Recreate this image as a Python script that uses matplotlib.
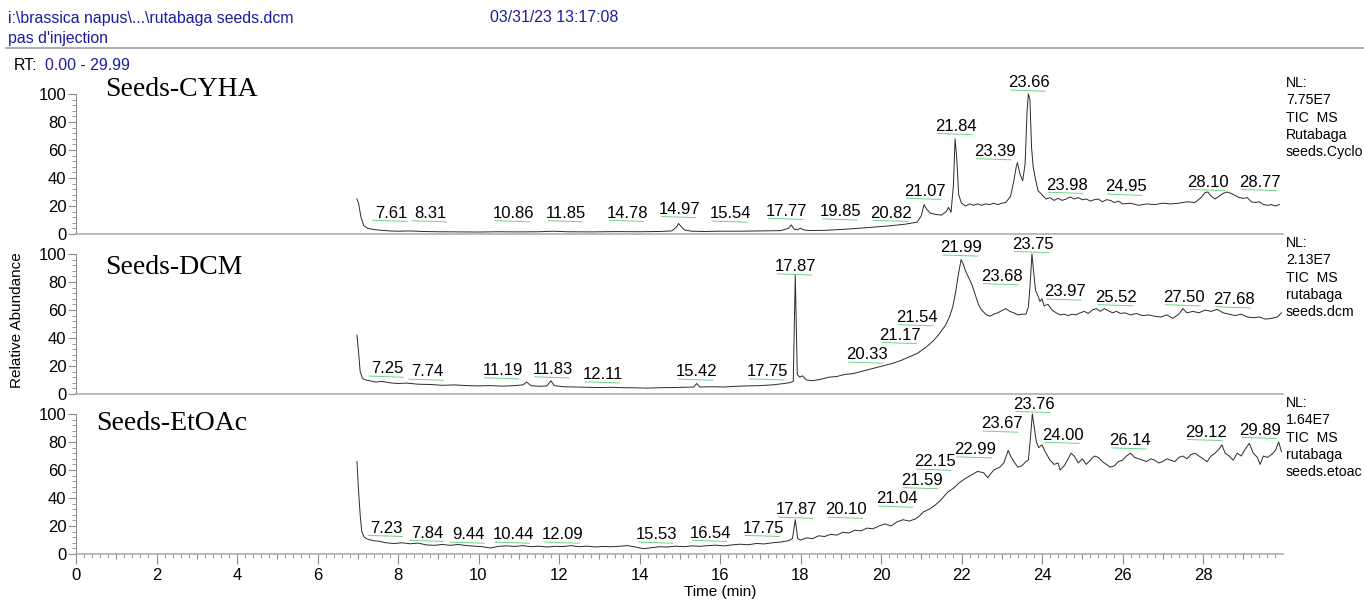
import matplotlib
matplotlib.use("Agg")
import matplotlib.pyplot as plt
from matplotlib.ticker import MultipleLocator

plt.rcParams['font.family'] = ['Liberation Sans', 'DejaVu Sans']

# ---- traces (time in min, relative abundance in %) ----
cyha_t = [6.98, 7.02, 7.08, 7.15, 7.25, 7.4, 7.6, 7.8, 8.0, 8.3, 8.6, 9.0, 9.5, 10.0, 10.5,
          11.0, 11.5, 11.85, 12.2, 12.8, 13.4, 14.0, 14.5, 14.8, 14.92, 14.97, 15.03, 15.12,
          15.3, 15.6, 16.0, 16.5, 17.0, 17.5, 17.7, 17.77, 17.84, 17.92, 18.0, 18.07, 18.2,
          18.6, 19.0, 19.5, 19.85, 20.2, 20.6, 20.9, 21.0, 21.07, 21.13, 21.22, 21.35, 21.5,
          21.62, 21.68, 21.74, 21.8, 21.84, 21.88, 21.93, 22.0, 22.1, 22.2, 22.3, 22.4, 22.5,
          22.6, 22.7, 22.8, 22.9, 23.0, 23.1, 23.22, 23.3, 23.36, 23.39, 23.45, 23.52, 23.58,
          23.63, 23.66, 23.7, 23.74, 23.78, 23.82, 23.9, 24.0, 24.1, 24.2, 24.3, 24.4, 24.5,
          24.6, 24.7, 24.8, 24.9, 25.0, 25.1, 25.2, 25.3, 25.4, 25.5, 25.6, 25.7, 25.8, 25.9,
          26.0, 26.2, 26.4, 26.6, 26.8, 27.0, 27.2, 27.4, 27.6, 27.8, 27.95, 28.05, 28.12,
          28.2, 28.3, 28.4, 28.5, 28.6, 28.7, 28.8, 28.9, 29.0, 29.1, 29.2, 29.3, 29.4, 29.5,
          29.6, 29.7, 29.8, 29.9]
cyha_v = [25, 22, 12, 6, 4, 3.2, 2.6, 2.2, 2.0, 2.2, 1.8, 1.6, 1.5, 1.4, 1.6,
          1.5, 1.6, 2.0, 1.6, 1.5, 1.7, 1.6, 1.8, 2.2, 5, 7.5, 5.5, 2.8,
          2.0, 1.8, 2.0, 2.0, 2.2, 2.4, 4, 6.5, 3.5, 3.0, 4.2, 3.0, 2.5,
          2.6, 3.2, 4.2, 5.0, 5.8, 7.0, 8.5, 13, 21, 18, 15, 14, 13.5,
          16, 19, 15.5, 35, 68, 55, 28, 22, 20, 21.5, 20.5, 21.5, 20.5,
          21.5, 21, 22, 21, 22, 22.5, 27, 38, 48, 51, 43, 38, 50,
          88, 100, 96, 62, 48, 42, 31, 28, 25, 26, 24, 25.5, 24,
          25, 26.5, 25, 26, 24.5, 25, 23.5, 24.5, 25, 23, 24.5, 24, 22.5, 23.5,
          21.5, 22, 20.5, 21.5, 21, 22, 21.5, 22, 23, 22.5, 26, 29.5, 30,
          27, 25, 27, 29, 30, 29, 27.5, 26, 25.5, 26, 23, 22.5, 23, 21,
          20.5, 21, 20, 21]

dcm_t = [6.98, 7.02, 7.06, 7.12, 7.2, 7.3, 7.45, 7.6, 7.8, 8.0, 8.2, 8.5, 8.8, 9.1, 9.4,
         9.7, 10.0, 10.3, 10.6, 10.9, 11.1, 11.2, 11.3, 11.5, 11.7, 11.8, 11.88, 12.1, 12.4,
         12.7, 13.0, 13.3, 13.6, 13.9, 14.2, 14.5, 14.8, 15.1, 15.35, 15.42, 15.5, 15.8,
         16.1, 16.4, 16.7, 17.0, 17.3, 17.6, 17.75, 17.82, 17.87, 17.92, 17.98, 18.05, 18.15,
         18.3, 18.5, 18.7, 18.9, 19.1, 19.3, 19.5, 19.7, 19.9, 20.1, 20.3, 20.5, 20.7, 20.9,
         21.1, 21.3, 21.45, 21.6, 21.7, 21.78, 21.85, 21.92, 21.99, 22.04, 22.1, 22.18, 22.26,
         22.34, 22.42, 22.5, 22.6, 22.7, 22.8, 22.9, 23.0, 23.1, 23.2, 23.3, 23.4, 23.5, 23.6,
         23.66, 23.7, 23.75, 23.79, 23.84, 23.9, 23.95, 24.0, 24.05, 24.15, 24.25, 24.35,
         24.45, 24.55, 24.65, 24.75, 24.85, 24.95, 25.05, 25.15, 25.25, 25.35, 25.45, 25.55,
         25.65, 25.75, 25.85, 25.95, 26.05, 26.2, 26.35, 26.5, 26.65, 26.8, 26.95, 27.1,
         27.25, 27.4, 27.5, 27.6, 27.75, 27.9, 28.05, 28.2, 28.35, 28.5, 28.65, 28.8, 28.95,
         29.1, 29.25, 29.4, 29.55, 29.7, 29.85, 29.95]
dcm_v = [42, 30, 16, 11, 10, 9.5, 8.5, 9, 8, 7.5, 7.8, 7, 6.8, 6.2, 6.5,
         6, 5.8, 6, 5.6, 6, 6.5, 8.5, 6, 5.5, 5.8, 9.5, 6, 5.2, 5,
         4.8, 4.6, 4.8, 4.5, 4.4, 4.2, 4.5, 4.6, 4.8, 5, 7.5, 5, 5.2,
         5, 5.5, 5.8, 6, 6.5, 7.5, 8.2, 9, 85, 14, 12, 13, 10,
         9.5, 10.5, 12, 12.5, 14, 14.5, 16, 17.5, 19, 20.5, 22, 24, 26.5, 29,
         33, 38, 43, 49, 55, 62, 72, 85, 96, 93, 88, 83, 78,
         71, 64, 60, 57, 55.5, 57, 58, 59.5, 61, 59, 58, 56.5, 57, 57,
         62, 76, 100, 88, 74, 70, 66, 68, 63, 64, 60, 58,
         56.5, 57, 56, 57, 56.5, 58, 59, 57.5, 60, 61, 59, 61,
         59.5, 58, 59, 57.5, 58, 56.5, 57.5, 56, 56.5, 55.5, 55, 56.5,
         54, 57, 61, 58, 59, 58, 60, 59, 60.5, 58, 57, 56, 57,
         55, 54.5, 55, 53.5, 54, 55, 58]

etoac_t = [6.98, 7.02, 7.06, 7.1, 7.16, 7.25, 7.4, 7.55, 7.7, 7.9, 8.1, 8.3, 8.5, 8.7, 8.9,
           9.1, 9.3, 9.5, 9.7, 9.9, 10.1, 10.3, 10.5, 10.7, 10.9, 11.1, 11.3, 11.5, 11.7,
           11.9, 12.1, 12.3, 12.5, 12.7, 12.9, 13.1, 13.3, 13.5, 13.7, 13.9, 14.1, 14.3, 14.5,
           14.7, 14.9, 15.1, 15.3, 15.5, 15.7, 15.9, 16.1, 16.3, 16.5, 16.7, 16.9, 17.1, 17.3,
           17.5, 17.7, 17.8, 17.87, 17.93, 18.0, 18.15, 18.3, 18.45, 18.6, 18.75, 18.9, 19.05,
           19.2, 19.35, 19.5, 19.65, 19.8, 19.95, 20.1, 20.25, 20.4, 20.55, 20.7, 20.85, 20.95,
           21.05, 21.2, 21.35, 21.5, 21.65, 21.8, 21.95, 22.1, 22.25, 22.4, 22.55, 22.65, 22.8,
           22.95, 23.05, 23.16, 23.22, 23.3, 23.4, 23.5, 23.6, 23.66, 23.71, 23.76, 23.8, 23.86,
           23.92, 24.0, 24.08, 24.2, 24.3, 24.4, 24.45, 24.55, 24.65, 24.72, 24.8, 24.9, 25.0,
           25.1, 25.2, 25.3, 25.4, 25.5, 25.6, 25.7, 25.8, 25.9, 26.0, 26.1, 26.2, 26.3, 26.4,
           26.5, 26.6, 26.7, 26.8, 26.9, 27.0, 27.1, 27.2, 27.3, 27.4, 27.5, 27.6, 27.7, 27.8,
           27.9, 28.0, 28.1, 28.2, 28.3, 28.4, 28.47, 28.55, 28.65, 28.75, 28.85, 28.95, 29.05,
           29.15, 29.25, 29.35, 29.42, 29.5, 29.6, 29.7, 29.8, 29.88, 29.95]
etoac_v = [66, 45, 28, 16, 12, 10.5, 9.5, 9, 8, 7.5, 8, 7.3, 7.8, 6.5, 6.2,
           6.8, 6.2, 6.8, 6, 5.6, 5.2, 4.3, 5.5, 5.8, 5.4, 6, 5.2, 5.6, 5,
           5.5, 5.3, 6, 5.2, 5.6, 5, 5.4, 5.2, 5.5, 6, 5, 3.8, 4.5, 5.2,
           5, 5.6, 5.2, 5.8, 5.5, 6, 6.3, 5.8, 6.5, 7, 6.6, 7.5, 7.2, 8,
           8.5, 9.5, 11, 24.5, 11, 10, 11.5, 11, 13, 12.5, 14, 13.5, 15.5,
           15, 17, 16.5, 18.5, 18, 20, 21.5, 20, 23, 24.5, 23.5, 25, 27,
           30, 32, 35, 39, 44, 47, 51, 54, 56.5, 59, 58, 54.5, 60,
           62, 65, 74, 70, 66, 62, 63, 66, 67, 82, 100, 92, 80,
           76, 78, 73, 67, 64, 65, 60, 63, 68, 72, 70, 65, 68,
           64, 67, 70, 69, 66, 64, 62, 63, 66, 67, 70, 72, 69, 68,
           67, 66, 68, 67, 65, 66, 68, 67, 66, 69, 70, 68, 71, 72,
           70, 68, 66, 70, 72, 75, 78, 72, 70, 67, 72, 70, 75,
           79, 72, 69, 64, 70, 69, 71, 74, 80, 73]

# ---- peak labels: text, label centre (min), label height (%) ----
cyha_labels = ["7.61", "8.31", "10.86", "11.85", "14.78", "14.97", "15.54", "17.77", "19.85",
               "20.82", "21.07", "21.84", "23.39", "23.66", "23.98", "24.95", "28.10", "28.77"]
cyha_lab_x = [7.82, 8.8, 10.87, 12.18, 13.7, 15.0, 16.27, 17.66, 19.0,
              20.26, 21.09, 21.86, 22.83, 23.68, 24.61, 26.08, 28.13, 29.42]
cyha_lab_y = [15, 14.7, 14.7, 14.7, 15, 17.7, 14.4, 16.4, 16,
              15, 30.7, 77, 59, 108, 35, 33.6, 37, 37]

dcm_labels = ["7.25", "7.74", "11.19", "11.83", "12.11", "15.42", "17.75", "17.87", "20.33",
              "21.17", "21.54", "21.99", "23.68", "23.75", "23.97", "25.52", "27.50", "27.68"]
dcm_lab_x = [7.73, 8.72, 10.6, 11.85, 13.1, 15.43, 17.18, 17.88, 19.65,
             20.48, 20.89, 21.99, 23.0, 23.77, 24.57, 25.85, 27.52, 28.77]
dcm_lab_y = [18, 15.8, 16.8, 17.5, 13.9, 15.8, 16, 91, 28,
             42, 54.7, 104.5, 84, 107, 73, 69, 69, 67.5]

etoac_labels = ["7.23", "7.84", "9.44", "10.44", "12.09", "15.53", "16.54", "17.75", "17.87",
                "20.10", "21.04", "21.59", "22.15", "22.99", "23.67", "23.76", "24.00", "26.14",
                "29.12", "29.89"]
etoac_lab_x = [7.71, 8.73, 9.74, 10.86, 12.1, 14.43, 15.77, 17.07, 17.9,
               19.14, 20.39, 21.01, 21.34, 22.34, 23.0, 23.8, 24.52, 26.19,
               28.07, 29.42]
etoac_lab_y = [18.5, 15, 13.7, 13.7, 13.7, 13.7, 15, 18.5, 31.5,
               31.5, 39.4, 52.6, 65.8, 74.6, 93, 107, 85, 81,
               87, 88.5]

titles = ["Seeds-CYHA", "Seeds-DCM", "Seeds-EtOAc"]
nl_texts = ["NL:\n7.75E7\nTIC  MS\nRutabaga\nseeds.Cyclo",
            "NL:\n2.13E7\nTIC  MS\nrutabaga\nseeds.dcm",
            "NL:\n1.64E7\nTIC  MS\nrutabaga\nseeds.etoac"]

W, H = 1364, 604
BLUE = '#1c1c9e'
GRAY = '#8c8c8c'


def fx(px):
    return px / W


def fy(py):
    return 1 - py / H


fig = plt.figure(figsize=(W / 100, H / 100), dpi=100)

# header
fig.text(fx(8), fy(18), r"i:\brassica napus\...\rutabaga seeds.dcm", color=BLUE, fontsize=11.4, va='center')
fig.text(fx(490), fy(18), "03/31/23 13:17:08", color=BLUE, fontsize=11.4, va='center')
fig.text(fx(8), fy(38), "pas d'injection", color=BLUE, fontsize=11.4, va='center')
fig.add_artist(plt.Line2D([fx(6), 1.0], [fy(48), fy(48)], color='#a0a0a0', lw=1.2))
fig.text(fx(14), fy(65), "RT:", color='black', fontsize=11.4, va='center')
fig.text(fx(45), fy(65), "0.00 - 29.99", color=BLUE, fontsize=11.4, va='center')

panels = [
    (cyha_t, cyha_v, cyha_labels, cyha_lab_x, cyha_lab_y, 234, (105, 90)),
    (dcm_t, dcm_v, dcm_labels, dcm_lab_x, dcm_lab_y, 394, (105, 268)),
    (etoac_t, etoac_v, etoac_labels, etoac_lab_x, etoac_lab_y, 554, (96, 424)),
]

x0_px, xmax = 76, 29.99
px_per_min = 40.25
for i, (t, v, labs, lx, ly, zero_py, tpos) in enumerate(panels):
    ax = fig.add_axes([fx(x0_px), fy(zero_py), xmax * px_per_min / W, 140 / H])
    ax.set_xlim(0, xmax)
    ax.set_ylim(0, 100)
    ax.plot(t, v, color='#2a2a2a', lw=0.7, clip_on=False)

    for s, xx, yy in zip(labs, lx, ly):
        ax.text(xx, yy, s, ha='center', va='center', fontsize=12, clip_on=False)
        # thin green leader under each peak label
        ax.plot([xx - 0.45, xx + 0.4], [yy - 5.2, yy - 6.0], color='#6fd38a', lw=0.7, clip_on=False)

    for side in ('top', 'right'):
        ax.spines[side].set_visible(False)
    ax.spines['left'].set_color(GRAY)
    ax.spines['bottom'].set_color('#a8a8a8')
    ax.spines['bottom'].set_linewidth(1.1)

    ax.yaxis.set_major_locator(MultipleLocator(20))
    ax.yaxis.set_minor_locator(MultipleLocator(4))
    ax.tick_params(axis='y', which='major', length=6, color=GRAY, labelsize=12, pad=1)
    ax.tick_params(axis='y', which='minor', length=3, color=GRAY)

    if i < 2:
        ax.set_xticks([])
    else:
        ax.xaxis.set_major_locator(MultipleLocator(2))
        ax.xaxis.set_minor_locator(MultipleLocator(0.2))
        ax.tick_params(axis='x', which='major', length=7, color=GRAY, labelsize=12, pad=3)
        ax.tick_params(axis='x', which='minor', length=3, color=GRAY)
        # slightly longer ticks on odd minutes
        ax.vlines(range(1, 30, 2), 0, -0.035, transform=ax.get_xaxis_transform(),
                  color=GRAY, lw=0.8, clip_on=False)

    ax.patch.set_alpha(0)
    fig.text(fx(tpos[0]), fy(tpos[1]), titles[i], family=['Liberation Serif', 'DejaVu Serif'],
             fontsize=20, va='center', ha='left')
    fig.text(fx(1286), fy(zero_py - 158), nl_texts[i], fontsize=10.2, va='top', ha='left', linespacing=1.3)

fig.text(fx(17), fy(320), "Relative Abundance", rotation=90, fontsize=11, va='center', ha='center')
fig.text(fx(720), fy(592), "Time (min)", fontsize=11, va='center', ha='center')

fig.savefig("out.png", dpi=100)
